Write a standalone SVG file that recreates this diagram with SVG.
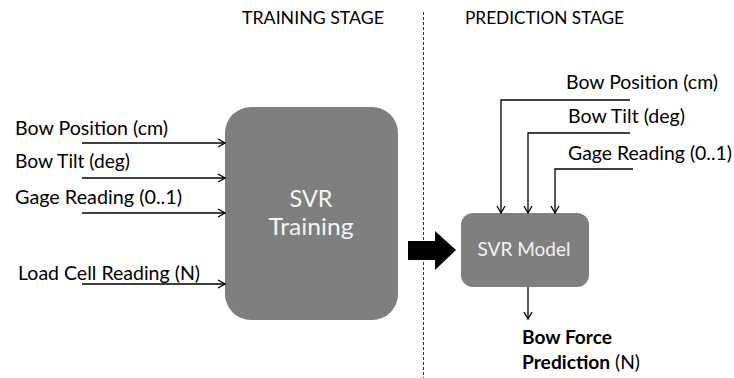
<svg xmlns="http://www.w3.org/2000/svg" width="734" height="378" viewBox="0 0 734 378">
  <style>
    .lbl { font-family: Lato, "Liberation Sans", sans-serif; font-size: 19px; fill: #000; }
    .hdr { font-family: Lato, "Liberation Sans", sans-serif; font-size: 18px; fill: #000; }
    .box { fill: #7f7f7f; }
    .boxtxt { font-family: Lato, "Liberation Sans", sans-serif; fill: #f4f4f4; text-anchor: middle; }
    .wire { fill: none; stroke: #000; stroke-width: 1.3; marker-end: url(#chev); }
    .bold { font-weight: bold; }
  </style>
  <defs>
    <marker id="chev" viewBox="0 0 10 10" refX="9" refY="5" markerWidth="10" markerHeight="10" markerUnits="userSpaceOnUse" orient="auto">
      <path d="M2,1 L9,5 L2,9" fill="none" stroke="#000" stroke-width="1.3"/>
    </marker>
  </defs>

  <!-- stage headings and divider -->
  <g id="headings">
    <text class="hdr" x="242" y="24" textLength="142" lengthAdjust="spacingAndGlyphs">TRAINING STAGE</text>
    <text class="hdr" x="465" y="24" textLength="159" lengthAdjust="spacingAndGlyphs">PREDICTION STAGE</text>
    <line x1="423.5" y1="12" x2="423.5" y2="378" stroke="#333" stroke-width="1" stroke-dasharray="3,2"/>
  </g>

  <!-- training inputs -->
  <g id="train-inputs">
    <text class="lbl" x="15" y="135" textLength="153" lengthAdjust="spacingAndGlyphs">Bow Position (cm)</text>
    <text class="lbl" x="15" y="168" textLength="115" lengthAdjust="spacingAndGlyphs">Bow Tilt (deg)</text>
    <text class="lbl" x="15" y="204" textLength="167" lengthAdjust="spacingAndGlyphs">Gage Reading (0..1)</text>
    <text class="lbl" x="18" y="280" textLength="182" lengthAdjust="spacingAndGlyphs">Load Cell Reading (N)</text>
  </g>

  <!-- SVR training block -->
  <g id="svr-training">
    <rect class="box" x="225" y="107" width="173" height="213" rx="26" ry="26"/>
    <text class="boxtxt" x="311" y="207" font-size="23" textLength="43" lengthAdjust="spacingAndGlyphs">SVR</text>
    <text class="boxtxt" x="311" y="235" font-size="23" textLength="85" lengthAdjust="spacingAndGlyphs">Training</text>
  </g>

  <!-- transfer arrow -->
  <g id="transfer">
    <path d="M408,241 L435,241 L435,231 L456,250 L435,270 L435,260 L408,260 Z" fill="#000"/>
  </g>

  <!-- prediction inputs -->
  <g id="predict-inputs">
    <text class="lbl" x="566" y="89" textLength="152" lengthAdjust="spacingAndGlyphs">Bow Position (cm)</text>
    <text class="lbl" x="568" y="123" textLength="117" lengthAdjust="spacingAndGlyphs">Bow Tilt (deg)</text>
    <text class="lbl" x="568" y="160" textLength="164" lengthAdjust="spacingAndGlyphs">Gage Reading (0..1)</text>
  </g>

  <!-- SVR model block -->
  <g id="svr-model">
    <rect class="box" x="461" y="213" width="128" height="74" rx="12" ry="12"/>
    <text class="boxtxt" x="524" y="256" font-size="19" textLength="93" lengthAdjust="spacingAndGlyphs">SVR Model</text>
  </g>

  <!-- output -->
  <g id="output">
    <text class="lbl bold" x="522" y="344" textLength="90" lengthAdjust="spacingAndGlyphs">Bow Force</text>
    <text class="lbl" x="522" y="369" textLength="118" lengthAdjust="spacingAndGlyphs"><tspan class="bold">Prediction</tspan> (N)</text>
  </g>

  <!-- connectors -->
  <g id="connectors">
    <path class="wire" d="M82,143 H225"/>
    <path class="wire" d="M82,178 H225"/>
    <path class="wire" d="M82,213 H225"/>
    <path class="wire" d="M82,284 H225"/>
    <path class="wire" d="M630,100 H501 V213"/>
    <path class="wire" d="M630,133 H528 V213"/>
    <path class="wire" d="M633,169 H555 V213"/>
    <path class="wire" d="M528,287 V319"/>
  </g>
</svg>
